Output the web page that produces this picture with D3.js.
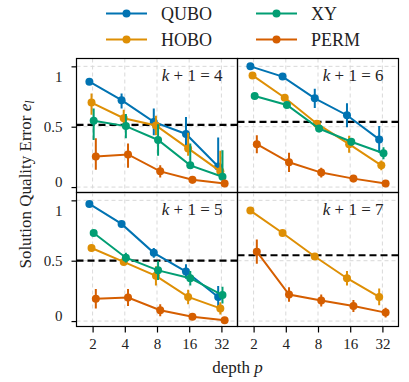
<!DOCTYPE html>
<html>
<head>
<meta charset="utf-8">
<script src="https://cdn.jsdelivr.net/npm/d3@7"></script>
<style>
  body { margin: 0; background: #fff; }
  text { font-family: "Liberation Serif", "DejaVu Serif", serif; fill: #222; }
</style>
</head>
<body>
<div id="chart"></div>
<script>
// depth values on the x axis
const depths = [2, 4, 8, 16, 32];
const yTicks = [0, 0.5, 1];
const seriesNames = ["QUBO", "HOBO", "XY", "PERM"];
const seriesColors = ["#0173b2", "#de8f05", "#029e73", "#d55e00"];

// k+1 = 4  (value, lower error, upper error)
const k4_QUBO = [0.873, 0.72, 0.54, 0.44, 0.17];
const k4_QUBO_lo = [0.02, 0.07, 0.11, 0.14, 0.01];
const k4_QUBO_hi = [0.02, 0.055, 0.11, 0.14, 0.24];
const k4_HOBO = [0.70, 0.57, 0.51, 0.32, 0.13];
const k4_HOBO_lo = [0.1, 0.07, 0.08, 0.06, 0.02];
const k4_HOBO_hi = [0.075, 0.07, 0.08, 0.13, 0.17];
const k4_XY = [0.55, 0.505, 0.39, 0.18, 0.085];
const k4_XY_lo = [0.16, 0.1, 0.13, 0.02, 0.01];
const k4_XY_hi = [0.1, 0.1, 0.13, 0.18, 0.22];
const k4_PERM = [0.254, 0.27, 0.13, 0.06, 0.03];
const k4_PERM_lo = [0.11, 0.11, 0.05, 0.03, 0.01];
const k4_PERM_hi = [0.15, 0.09, 0.05, 0.03, 0.01];

// k+1 = 6
const k6_QUBO = [1.0, 0.915, 0.735, 0.595, 0.395];
const k6_QUBO_lo = [0.01, 0.02, 0.08, 0.1, 0.11];
const k6_QUBO_hi = [0.01, 0.02, 0.08, 0.1, 0.11];
const k6_HOBO = [0.925, 0.74, 0.525, 0.355, 0.18];
const k6_HOBO_lo = [0.01, 0.02, 0.03, 0.07, 0.04];
const k6_HOBO_hi = [0.01, 0.02, 0.03, 0.07, 0.04];
const k6_XY = [0.755, 0.68, 0.485, 0.375, 0.28];
const k6_XY_lo = [0.01, 0.02, 0.03, 0.03, 0.05];
const k6_XY_hi = [0.01, 0.02, 0.03, 0.03, 0.05];
const k6_PERM = [0.355, 0.205, 0.12, 0.07, 0.03];
const k6_PERM_lo = [0.075, 0.08, 0.04, 0.03, 0.01];
const k6_PERM_hi = [0.075, 0.08, 0.04, 0.03, 0.01];

// k+1 = 5
const k5_QUBO = [0.97, 0.805, 0.565, 0.41, 0.2];
const k5_QUBO_lo = [0.01, 0.015, 0.04, 0.06, 0.09];
const k5_QUBO_hi = [0.01, 0.015, 0.04, 0.06, 0.09];
const k5_HOBO = [0.605, 0.49, 0.375, 0.2, 0.105];
const k5_HOBO_lo = [0.01, 0.02, 0.08, 0.06, 0.05];
const k5_HOBO_hi = [0.01, 0.02, 0.08, 0.06, 0.05];
const k5_XY = [0.73, 0.525, 0.42, 0.355, 0.215];
const k5_XY_lo = [0.01, 0.04, 0.08, 0.06, 0.07];
const k5_XY_hi = [0.01, 0.04, 0.08, 0.06, 0.07];
const k5_PERM = [0.185, 0.195, 0.09, 0.035, 0.006];
const k5_PERM_lo = [0.08, 0.07, 0.05, 0.015, 0.01];
const k5_PERM_hi = [0.08, 0.07, 0.05, 0.015, 0.01];

// k+1 = 7
const k7_HOBO = [0.915, 0.73, 0.535, 0.355, 0.2];
const k7_HOBO_lo = [0.01, 0.01, 0.02, 0.06, 0.07];
const k7_HOBO_hi = [0.01, 0.01, 0.02, 0.06, 0.07];
const k7_PERM = [0.575, 0.22, 0.17, 0.125, 0.07];
const k7_PERM_lo = [0.1, 0.06, 0.05, 0.05, 0.04];
const k7_PERM_hi = [0.1, 0.06, 0.05, 0.05, 0.04];

// dashed reference level per panel
const thresholds = [0.515, 0.54, 0.5, 0.545];

const panels = [
  { k: 4, col: 0, row: 0, thr: thresholds[0], series: [
    ["QUBO", k4_QUBO, k4_QUBO_lo, k4_QUBO_hi], ["HOBO", k4_HOBO, k4_HOBO_lo, k4_HOBO_hi],
    ["XY", k4_XY, k4_XY_lo, k4_XY_hi], ["PERM", k4_PERM, k4_PERM_lo, k4_PERM_hi]] },
  { k: 6, col: 1, row: 0, thr: thresholds[1], series: [
    ["QUBO", k6_QUBO, k6_QUBO_lo, k6_QUBO_hi], ["HOBO", k6_HOBO, k6_HOBO_lo, k6_HOBO_hi],
    ["XY", k6_XY, k6_XY_lo, k6_XY_hi], ["PERM", k6_PERM, k6_PERM_lo, k6_PERM_hi]] },
  { k: 5, col: 0, row: 1, thr: thresholds[2], series: [
    ["QUBO", k5_QUBO, k5_QUBO_lo, k5_QUBO_hi], ["HOBO", k5_HOBO, k5_HOBO_lo, k5_HOBO_hi],
    ["XY", k5_XY, k5_XY_lo, k5_XY_hi], ["PERM", k5_PERM, k5_PERM_lo, k5_PERM_hi]] },
  { k: 7, col: 1, row: 1, thr: thresholds[3], series: [
    ["HOBO", k7_HOBO, k7_HOBO_lo, k7_HOBO_hi], ["PERM", k7_PERM, k7_PERM_lo, k7_PERM_hi]] }
];

const colorOf = d3.scaleOrdinal().domain(seriesNames).range(seriesColors);

const W = 409, H = 382;
const plotLeft = 76.5, plotTop = 58.5;
const pw = 161, ph = 134;

const svg = d3.select("#chart").append("svg")
  .attr("width", W)
  .attr("height", H);

panels.forEach((p, pi) => {
  const x0 = plotLeft + p.col * pw;
  const y0 = plotTop + p.row * ph;
  const g = svg.append("g").attr("transform", `translate(${x0},${y0})`);

  svg.append("clipPath").attr("id", "clip" + pi)
    .append("rect").attr("width", pw).attr("height", ph);

  const x = d3.scaleLog().base(2)
    .domain([Math.pow(2, 0.5), Math.pow(2, 5.5)])
    .range([0, pw]);
  const y = d3.scaleLinear()
    .domain([-0.045, 1.065])
    .range([ph, 0]);

  // grid
  g.selectAll(".gx").data(depths).enter().append("line")
    .attr("x1", d => x(d)).attr("x2", d => x(d))
    .attr("y1", 0).attr("y2", ph)
    .attr("stroke", "#d9d9d9").attr("stroke-width", 1)
    .attr("stroke-dasharray", "4,3");
  g.selectAll(".gy").data(yTicks).enter().append("line")
    .attr("x1", 0).attr("x2", pw)
    .attr("y1", d => y(d)).attr("y2", d => y(d))
    .attr("stroke", "#d9d9d9").attr("stroke-width", 1)
    .attr("stroke-dasharray", "4,3");

  // threshold
  g.append("line")
    .attr("x1", 0).attr("x2", pw)
    .attr("y1", y(p.thr)).attr("y2", y(p.thr))
    .attr("stroke", "#000").attr("stroke-width", 2.2)
    .attr("stroke-dasharray", "7,4");

  const plot = g.append("g").attr("clip-path", `url(#clip${pi})`);

  // dodge offsets in log2 units
  const n = p.series.length;
  p.series.forEach((s, i) => {
    const [name, vals, lo, hi] = s;
    const off = n === 1 ? 0 : -0.1 + 0.2 * i / (n - 1);
    const pts = depths.map((d, j) => ({ p: d * Math.pow(2, off), v: vals[j], lo: lo[j], hi: hi[j] }));
    const c = colorOf(name);
    const sg = plot.append("g");

    sg.selectAll("line.err").data(pts).enter().append("line")
      .attr("x1", d => x(d.p)).attr("x2", d => x(d.p))
      .attr("y1", d => y(d.v - d.lo)).attr("y2", d => y(d.v + d.hi))
      .attr("stroke", c).attr("stroke-width", 2);

    sg.append("path")
      .datum(pts)
      .attr("fill", "none")
      .attr("stroke", c)
      .attr("stroke-width", 2)
      .attr("d", d3.line().x(d => x(d.p)).y(d => y(d.v)));

    sg.selectAll("circle").data(pts).enter().append("circle")
      .attr("cx", d => x(d.p)).attr("cy", d => y(d.v))
      .attr("r", 4).attr("fill", c);
  });

  // frame
  g.append("rect")
    .attr("width", pw).attr("height", ph)
    .attr("fill", "none").attr("stroke", "#000").attr("stroke-width", 1.2);

  // panel label
  const lab = g.append("text")
    .attr("x", pw - 15).attr("y", 22)
    .attr("text-anchor", "end")
    .style("font-size", "17px");
  lab.append("tspan").style("font-style", "italic").text("k");
  lab.append("tspan").text(` + 1 = ${p.k}`);

  // y axis on left column
  if (p.col === 0) {
    const ya = d3.axisLeft(y).tickValues(yTicks).tickSize(5).tickPadding(9)
      .tickFormat(d => d === 0 ? "0" : d === 1 ? "1" : "0.5");
    const ag = g.append("g").call(ya);
    ag.select(".domain").remove();
    ag.selectAll("line").attr("stroke-width", 1.2);
    // labels sit a little off their ticks in the original
    ag.selectAll("text").style("font-size", "15px")
      .style("font-family", "Liberation Serif, serif").attr("fill", "#222")
      .attr("y", d => d === 1 ? 10 : d === 0 ? -5 : 0);
  }
  // x axis on bottom row
  if (p.row === 1) {
    const xa = d3.axisBottom(x).tickValues(depths).tickSize(6).tickPadding(6)
      .tickFormat(d3.format("d"));
    const ag = g.append("g").attr("transform", `translate(0,${ph})`).call(xa);
    ag.select(".domain").remove();
    ag.selectAll("line").attr("stroke-width", 1.2);
    ag.selectAll("text").style("font-size", "15px")
      .style("font-family", "Liberation Serif, serif").attr("fill", "#222");
  }
});

// axis labels
const xl = svg.append("text")
  .attr("x", plotLeft + pw).attr("y", 373)
  .attr("text-anchor", "middle")
  .style("font-size", "17px");
xl.append("tspan").text("depth ");
xl.append("tspan").style("font-style", "italic").text("p");

const yl = svg.append("text")
  .attr("transform", `translate(31,${plotTop + ph - 8}) rotate(-90)`)
  .attr("text-anchor", "middle")
  .style("font-size", "17px");
yl.append("tspan").text("Solution Quality Error ");
yl.append("tspan").style("font-style", "italic").text("e");
yl.append("tspan").style("font-style", "italic").style("font-size", "12px")
  .attr("dy", 3).text("l");

// legend
const legendData = [
  { name: "QUBO", col: 0, row: 0 },
  { name: "HOBO", col: 0, row: 1 },
  { name: "XY", col: 1, row: 0 },
  { name: "PERM", col: 1, row: 1 }
];
const lg = svg.selectAll(".leg").data(legendData).enter().append("g")
  .attr("transform", d => `translate(${106 + d.col * 150},${13.5 + d.row * 26})`);
lg.append("line")
  .attr("x1", 0).attr("x2", 41)
  .attr("stroke", d => colorOf(d.name)).attr("stroke-width", 2.2);
lg.append("circle")
  .attr("cx", 20.5).attr("r", 4)
  .attr("fill", d => colorOf(d.name));
lg.append("text")
  .attr("x", 55).attr("y", 6)
  .style("font-size", "18px")
  .text(d => d.name);
</script>
</body>
</html>
